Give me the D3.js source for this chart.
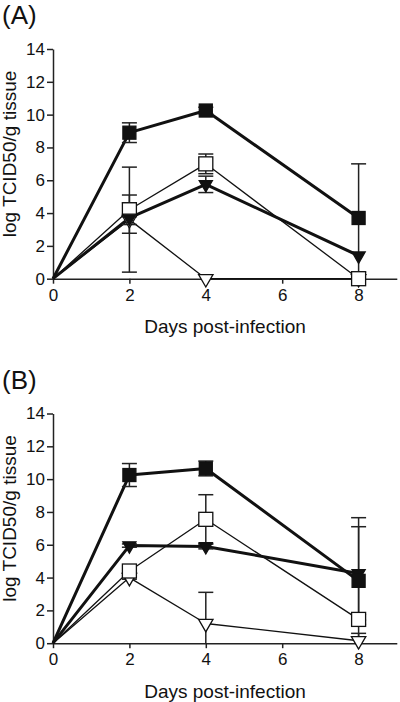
<!DOCTYPE html>
<html>
<head>
<meta charset="utf-8">
<script src="https://cdn.jsdelivr.net/npm/d3@7"></script>
<style>
  html, body { margin: 0; padding: 0; background: #fff; }
  svg { display: block; }
  text { font-family: "Liberation Sans", Arial, Helvetica, sans-serif; fill: #111; }
</style>
</head>
<body>
<svg id="chart" width="400" height="702"></svg>
<script>
// ---- data ----
const days = [0, 2, 4, 8];
const xTicks = [0, 2, 4, 6, 8];
const yTicks = [0, 2, 4, 6, 8, 10, 12, 14];
const panelLabels = ["(A)", "(B)"];
const xLabel = "Days post-infection";
const yLabel = "log TCID50/g tissue";

// Panel A
const aFilledSquare = [0, 8.9, 10.25, 3.7];
const aFilledSquareErr = [0, 0.6, 0.2, 3.3];
const aOpenSquare = [0, 4.2, 7.0, 0];
const aOpenSquareErr = [0, 0.9, 0.6, 0];
const aFilledTri = [0, 3.7, 5.75, 1.4];
const aFilledTriErr = [0, 0.93, 0.5, 0];
const aOpenTri = [0, 3.6, 0, 0];
const aOpenTriErr = [0, 3.2, 0, 0];

// Panel B
const bFilledSquare = [0, 10.25, 10.65, 3.8];
const bFilledSquareErr = [0, 0.7, 0.45, 3.85];
const bOpenSquare = [0, 4.4, 7.55, 1.45];
const bOpenSquareErr = [0, 0, 1.5, 0.3];
const bFilledTri = [0, 5.95, 5.9, 4.25];
const bFilledTriErr = [0, 0.1, 0.15, 2.85];
const bOpenTri = [0, 4.0, 1.2, 0.15];
const bOpenTriErr = [0, 0.1, 1.9, 0.45];

const panels = [
  { label: panelLabels[0], top: 0, series: [
    { v: aOpenTri, e: aOpenTriErr, sym: "tri", fill: false },
    { v: aOpenSquare, e: aOpenSquareErr, sym: "sq", fill: false },
    { v: aFilledTri, e: aFilledTriErr, sym: "tri", fill: true },
    { v: aFilledSquare, e: aFilledSquareErr, sym: "sq", fill: true }
  ]},
  { label: panelLabels[1], top: 364.5, series: [
    { v: bOpenTri, e: bOpenTriErr, sym: "tri", fill: false },
    { v: bOpenSquare, e: bOpenSquareErr, sym: "sq", fill: false },
    { v: bFilledTri, e: bFilledTriErr, sym: "tri", fill: true },
    { v: bFilledSquare, e: bFilledSquareErr, sym: "sq", fill: true }
  ]}
];

const svg = d3.select("#chart");
const x = d3.scaleLinear().domain([0, 9]).range([53, 396.8]);
const FONT = "Liberation Sans, Arial, sans-serif";

panels.forEach(p => {
  const g = svg.append("g").attr("transform", `translate(0,${p.top})`);
  const y = d3.scaleLinear().domain([0, 14]).range([278.7, 49]);

  // panel label
  g.append("text").attr("x", 2).attr("y", 24).attr("font-size", 26).text(p.label);

  // axes
  const yAxis = d3.axisLeft(y).tickValues(yTicks).tickSize(6).tickPadding(2).tickSizeOuter(0);
  const ya = g.append("g").attr("transform", `translate(${x(0)},0)`).call(yAxis);
  ya.select(".domain").attr("stroke", "#222").attr("stroke-width", 1.5);
  ya.selectAll(".tick line").attr("stroke", "#222").attr("stroke-width", 1.5);
  ya.selectAll(".tick text").attr("font-size", 17).attr("font-family", FONT).attr("fill", "#111");

  const xAxis = d3.axisBottom(x).tickValues(xTicks).tickSize(5).tickPadding(5).tickSizeOuter(0);
  const xa = g.append("g").attr("transform", `translate(0,${y(0)})`).call(xAxis);
  xa.select(".domain").attr("stroke", "#222").attr("stroke-width", 1.5);
  xa.selectAll(".tick line").attr("stroke", "#222").attr("stroke-width", 1.5);
  xa.selectAll(".tick text").attr("font-size", 17).attr("font-family", FONT).attr("fill", "#111");

  // axis titles
  g.append("text").attr("x", 225).attr("y", 333)
    .attr("text-anchor", "middle").attr("font-size", 19).text(xLabel);
  g.append("text").attr("transform", `translate(16,154) rotate(-90)`)
    .attr("text-anchor", "middle").attr("font-size", 19).text(yLabel);

  // lines
  const line = d3.line().x((d, i) => x(days[i])).y(d => y(d));
  p.series.forEach(s => {
    g.append("path").datum(s.v).attr("d", line).attr("fill", "none")
      .attr("stroke", "#111").attr("stroke-width", s.fill ? 3 : 1.3)
      .attr("stroke-linejoin", "round");
  });

  // error bars
  p.series.forEach(s => {
    s.v.forEach((v, i) => {
      const e = s.e[i];
      if (!e) return;
      const hi = v + e, lo = Math.max(0, v - e);
      const cx = x(days[i]);
      g.append("line").attr("x1", cx).attr("x2", cx).attr("y1", y(hi)).attr("y2", y(lo))
        .attr("stroke", "#222").attr("stroke-width", 1.5);
      g.append("line").attr("x1", cx - 7.5).attr("x2", cx + 7.5).attr("y1", y(hi)).attr("y2", y(hi))
        .attr("stroke", "#222").attr("stroke-width", 1.5);
      if (v - e >= 0) {
        g.append("line").attr("x1", cx - 7.5).attr("x2", cx + 7.5).attr("y1", y(lo)).attr("y2", y(lo))
          .attr("stroke", "#222").attr("stroke-width", 1.5);
      }
    });
  });

  // markers
  p.series.forEach(s => {
    s.v.forEach((v, i) => {
      if (days[i] === 0) return;
      const cx = x(days[i]), cy = y(v);
      if (s.sym === "sq") {
        const sz = s.fill ? 13 : 14;
        g.append("rect").attr("x", cx - sz / 2).attr("y", cy - sz / 2).attr("width", sz).attr("height", sz)
          .attr("fill", s.fill ? "#111" : "#fff").attr("stroke", "#111").attr("stroke-width", 1.3);
      } else {
        const sym = d3.symbol().type(d3.symbolTriangle).size(s.fill ? 75 : 90);
        g.append("path").attr("d", sym()).attr("transform", `translate(${cx},${cy}) rotate(180)`)
          .attr("fill", s.fill ? "#111" : "#fff").attr("stroke", "#111").attr("stroke-width", 1.3);
      }
    });
  });
});
</script>
</body>
</html>
